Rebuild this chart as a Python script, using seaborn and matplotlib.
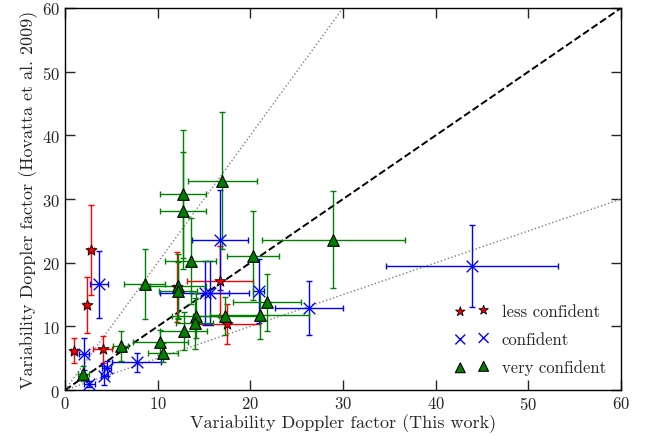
import matplotlib
matplotlib.use('Agg')
import matplotlib.pyplot as plt
import seaborn as sns
import numpy as np
import pandas as pd

# less confident (red stars)
red_x = [0.97, 2.34, 2.8, 4.07, 12.1, 16.73, 17.5]
red_y = [6.2, 13.4, 22.0, 6.4, 16.2, 17.1, 10.4]
red_xerr = [0.3, 0.3, 0.3, 1.0, 0.3, 3.6, 3.5]
red_yerr = [2.0, 4.4, 7.1, 2.1, 5.5, 5.6, 3.2]

# confident (blue crosses)
blue_x = [2.05, 2.62, 3.67, 4.25, 4.5, 7.73, 15.1, 15.65, 16.73, 20.9, 26.3, 43.9]
blue_y = [5.65, 0.94, 16.6, 2.25, 3.4, 4.35, 15.3, 15.2, 23.6, 15.6, 12.9, 19.5]
blue_xerr = [0.5, 0.6, 1.0, 0.4, 0.5, 2.6, 4.8, 2.0, 3.0, 0.6, 3.65, 9.3]
blue_yerr = [2.5, 0.5, 5.3, 1.5, 1.2, 1.45, 5.0, 5.0, 7.8, 5.0, 4.2, 6.4]

# very confident (green triangles)
green_x = [1.98, 6.0, 8.6, 10.3, 10.6, 12.2, 12.2, 12.77, 12.77, 12.8, 13.6,
           14.1, 14.0, 17.0, 17.3, 20.3, 21.8, 21.0, 28.95]
green_y = [2.6, 7.0, 16.6, 7.5, 5.9, 16.4, 15.6, 30.8, 28.2, 9.3, 20.3,
           11.7, 10.5, 32.9, 11.7, 21.1, 13.8, 11.8, 23.6]
green_xerr = [0.6, 0.8, 2.2, 3.0, 1.6, 3.0, 2.0, 2.5, 2.5, 2.5, 2.75,
              2.5, 2.0, 3.75, 3.5, 2.85, 3.7, 5.3, 7.7]
green_yerr = [1.2, 2.35, 5.5, 2.0, 1.5, 5.0, 4.5, 10.0, 9.2, 3.0, 6.7,
              3.5, 4.0, 10.8, 3.0, 7.0, 4.5, 3.8, 7.6]

sns.set_style("ticks")
plt.rcParams['font.family'] = ['cmr10', 'DejaVu Serif']
plt.rcParams['axes.formatter.use_mathtext'] = True
plt.rcParams['mathtext.fontset'] = 'cm'

fig = plt.figure(figsize=(6.49, 4.39), dpi=100)
ax = fig.add_axes([0.1, 0.109, 0.857, 0.8705])

# reference lines
line = pd.DataFrame({'x': [0, 60]})
sns.lineplot(x=line['x'], y=line['x'], ax=ax, color='black', linestyle='--', lw=1.4, zorder=1)
sns.lineplot(x=line['x'], y=line['x'] * 2, ax=ax, color='gray', linestyle=':', lw=1, zorder=1)
sns.lineplot(x=line['x'], y=line['x'] / 2, ax=ax, color='gray', linestyle=':', lw=1, zorder=1)

groups = [
    (red_x, red_y, red_xerr, red_yerr, 'red', '*', 'less confident', 70, 'black', 0.6),
    (blue_x, blue_y, blue_xerr, blue_yerr, 'blue', 'x', 'confident', 70, 'blue', 1.0),
    (green_x, green_y, green_xerr, green_yerr, 'green', '^', 'very confident', 70, 'black', 0.8),
]
for gx, gy, gxe, gye, col, mk, lab, sz, ec, lw in groups:
    ax.errorbar(gx, gy, xerr=gxe, yerr=gye, fmt='none', ecolor=col,
                elinewidth=1.0, capsize=2.5, capthick=1.0, zorder=2)
    df = pd.DataFrame({'x': gx, 'y': gy})
    sns.scatterplot(data=df, x='x', y='y', ax=ax, color=col, marker=mk, s=sz,
                    edgecolor=ec, linewidth=lw, label=lab, zorder=3)

ax.set_xlim(0, 60)
ax.set_ylim(0, 60)
ax.set_xticks(range(0, 61, 10))
ax.set_yticks(range(0, 61, 10))
ax.tick_params(direction='in', length=7, width=1, top=True, right=True, labelsize=12)
for sp in ax.spines.values():
    sp.set_linewidth(1)
    sp.set_color('black')

ax.set_xlabel('Variability Doppler factor (This work)', fontsize=13, labelpad=1)
ax.set_ylabel('Variability Doppler factor (Hovatta et al. 2009)', fontsize=13, labelpad=3)

ax.legend(loc='lower right', frameon=False, scatterpoints=2, fontsize=12,
          bbox_to_anchor=(1.0, 0.0), handletextpad=0.8, labelspacing=0.75,
          markerscale=0.85)

fig.savefig('out.png', dpi=100)
